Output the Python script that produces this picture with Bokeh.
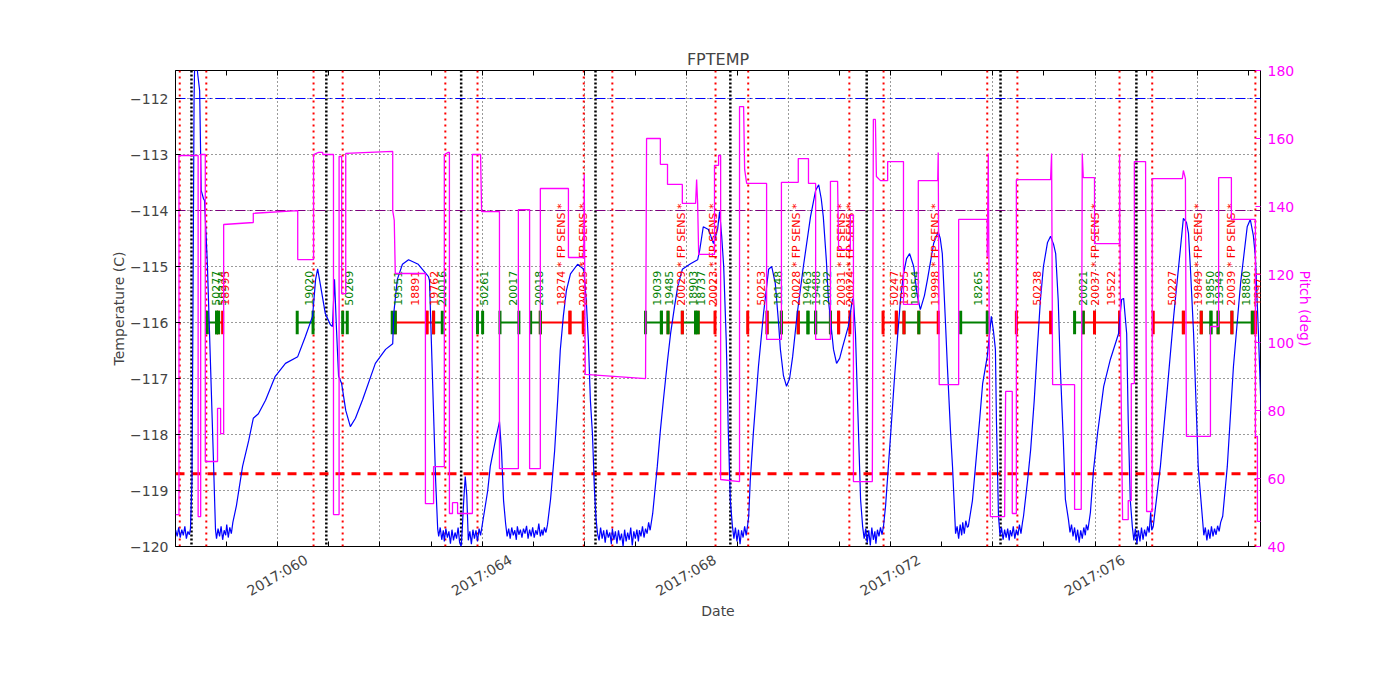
import math
from bokeh.plotting import figure
from bokeh.models import Range1d, LinearAxis, FixedTicker, Span, ColumnDataSource
from bokeh.embed import file_html
from bokeh.resources import INLINE
from bokeh.core.properties import value

# ---------------- data (day of year 2017) ----------------
TEMP = [
    (58.00, -119.71), (58.03, -119.82), (58.06, -119.66), (58.09, -119.84), (58.12, -119.70),
    (58.15, -119.80), (58.18, -119.64), (58.21, -119.86), (58.24, -119.73), (58.27, -119.79),
    (58.29, -119.68), (58.32, -118.82), (58.34, -115.61), (58.36, -112.04), (58.38, -110.96),
    (58.41, -111.32), (58.43, -111.55), (58.47, -111.86), (58.50, -113.64), (58.545, -113.79),
    (58.565, -113.82), (58.62, -114.93), (58.68, -116.68), (58.74, -118.46), (58.78, -119.70),
    (58.80, -119.86), (58.83, -119.68), (58.86, -119.82), (58.89, -119.64), (58.92, -119.88),
    (58.95, -119.71), (58.98, -119.80), (59.00, -119.61), (59.03, -119.84), (59.06, -119.66),
    (59.09, -119.77), (59.12, -119.57), (59.19, -119.27), (59.31, -118.57), (59.43, -118.11),
    (59.52, -117.71), (59.62, -117.63), (59.76, -117.39), (59.95, -116.96), (60.15, -116.73),
    (60.39, -116.61), (60.54, -116.25), (60.68, -115.89), (60.74, -115.23), (60.78, -115.04),
    (60.84, -115.36), (60.93, -115.84), (61.03, -116.04), (61.07, -116.07), (61.11, -115.23),
    (61.15, -116.14), (61.19, -116.96), (61.25, -117.09), (61.33, -117.57), (61.42, -117.86),
    (61.52, -117.71), (61.66, -117.38), (61.91, -116.73), (62.11, -116.48), (62.25, -116.38),
    (62.27, -115.84), (62.34, -115.23), (62.44, -114.96), (62.56, -114.88), (62.75, -114.96),
    (62.95, -115.18), (62.97, -115.25), (63.03, -117.04), (63.09, -118.82), (63.13, -119.68),
    (63.15, -119.82), (63.18, -119.66), (63.21, -119.88), (63.24, -119.71), (63.26, -119.91),
    (63.29, -119.68), (63.32, -119.84), (63.35, -119.73), (63.38, -119.95), (63.41, -119.70),
    (63.44, -119.89), (63.47, -119.75), (63.50, -119.86), (63.53, -119.66), (63.56, -119.93),
    (63.59, -120.00), (63.61, -119.71), (63.64, -119.18), (63.67, -118.75), (63.70, -119.09),
    (63.73, -119.89), (63.76, -119.73), (63.79, -119.96), (63.82, -119.70), (63.85, -119.86),
    (63.88, -119.71), (63.91, -119.91), (63.94, -119.68), (63.97, -119.80), (64.03, -119.46),
    (64.11, -119.00), (64.16, -118.57), (64.26, -118.11), (64.34, -117.77), (64.38, -118.29),
    (64.42, -119.18), (64.46, -119.59), (64.49, -119.82), (64.52, -119.68), (64.55, -119.86),
    (64.58, -119.66), (64.61, -119.80), (64.64, -119.71), (64.67, -119.88), (64.69, -119.64),
    (64.72, -119.79), (64.75, -119.70), (64.78, -119.84), (64.81, -119.68), (64.84, -119.77),
    (64.87, -119.63), (64.90, -119.86), (64.93, -119.70), (64.96, -119.82), (64.99, -119.66),
    (65.02, -119.84), (65.05, -119.71), (65.08, -119.79), (65.11, -119.59), (65.14, -119.82),
    (65.17, -119.70), (65.19, -119.80), (65.22, -119.66), (65.25, -119.75), (65.28, -119.61),
    (65.34, -119.16), (65.42, -118.29), (65.48, -117.38), (65.53, -116.50), (65.59, -115.89),
    (65.65, -115.43), (65.73, -115.13), (65.87, -114.96), (65.99, -115.05), (66.04, -115.61),
    (66.08, -116.32), (66.12, -117.39), (66.16, -117.98), (66.20, -119.00), (66.23, -119.50),
    (66.26, -119.77), (66.29, -119.89), (66.32, -119.66), (66.35, -119.86), (66.38, -119.71),
    (66.41, -119.93), (66.44, -119.70), (66.47, -119.84), (66.50, -119.75), (66.53, -119.96),
    (66.55, -119.68), (66.58, -119.88), (66.61, -119.73), (66.64, -119.95), (66.67, -119.71),
    (66.70, -119.89), (66.73, -119.77), (66.76, -120.00), (66.79, -119.70), (66.82, -119.91),
    (66.85, -119.75), (66.88, -119.88), (66.91, -119.66), (66.94, -119.98), (66.97, -119.73),
    (67.00, -119.86), (67.03, -119.70), (67.06, -119.91), (67.08, -119.71), (67.11, -119.82),
    (67.14, -119.64), (67.17, -119.84), (67.20, -119.68), (67.23, -119.77), (67.26, -119.57),
    (67.29, -119.71), (67.34, -119.41), (67.43, -118.57), (67.49, -117.93), (67.55, -117.38),
    (67.63, -116.68), (67.69, -116.20), (67.77, -115.70), (67.83, -115.36), (67.92, -115.05),
    (68.08, -114.95), (68.22, -114.88), (68.26, -114.71), (68.33, -114.29), (68.43, -114.34),
    (68.53, -114.59), (68.61, -114.34), (68.65, -114.02), (68.69, -114.45), (68.73, -115.00),
    (68.78, -116.32), (68.82, -117.93), (68.86, -119.18), (68.90, -119.63), (68.93, -119.86),
    (68.96, -119.66), (68.99, -119.91), (69.02, -119.70), (69.05, -119.96), (69.08, -119.71),
    (69.11, -119.84), (69.14, -119.64), (69.17, -119.80), (69.20, -119.61), (69.22, -119.46),
    (69.25, -118.82), (69.31, -117.98), (69.41, -116.79), (69.51, -115.84), (69.61, -115.05),
    (69.67, -115.00), (69.74, -115.30), (69.80, -115.96), (69.84, -116.48), (69.90, -116.95),
    (69.96, -117.14), (70.02, -117.00), (70.08, -116.61), (70.17, -115.84), (70.29, -115.00),
    (70.43, -114.11), (70.53, -113.64), (70.59, -113.54), (70.64, -113.79), (70.68, -114.11),
    (70.74, -114.89), (70.78, -115.59), (70.88, -116.48), (70.94, -116.73), (71.00, -116.64),
    (71.06, -116.43), (71.17, -116.07), (71.25, -115.59), (71.27, -115.57), (71.31, -116.20),
    (71.35, -117.39), (71.41, -119.16), (71.45, -119.64), (71.48, -119.86), (71.51, -119.68),
    (71.54, -119.93), (71.57, -119.71), (71.60, -119.98), (71.63, -119.66), (71.66, -119.88),
    (71.69, -119.73), (71.71, -119.95), (71.74, -119.70), (71.77, -119.82), (71.80, -119.66),
    (71.83, -119.79), (71.86, -119.63), (71.90, -119.27), (72.00, -117.98), (72.07, -117.04),
    (72.13, -116.30), (72.19, -115.61), (72.25, -115.13), (72.31, -114.86), (72.37, -114.77),
    (72.45, -115.00), (72.52, -115.52), (72.58, -115.77), (72.66, -115.52), (72.72, -115.23),
    (72.84, -114.59), (72.93, -114.38), (72.97, -114.50), (73.01, -114.77), (73.07, -115.96),
    (73.11, -116.79), (73.17, -117.93), (73.21, -118.57), (73.27, -119.77), (73.30, -119.64),
    (73.33, -119.86), (73.36, -119.61), (73.39, -119.80), (73.41, -119.57), (73.44, -119.77),
    (73.47, -119.54), (73.50, -119.66), (73.52, -119.64), (73.60, -119.18), (73.66, -118.57),
    (73.74, -117.75), (73.80, -117.09), (73.89, -116.61), (73.97, -115.89), (74.01, -116.14),
    (74.05, -116.48), (74.07, -117.75), (74.11, -119.46), (74.14, -119.80), (74.17, -119.66),
    (74.20, -119.88), (74.23, -119.70), (74.26, -119.84), (74.29, -119.68), (74.32, -119.89),
    (74.34, -119.71), (74.37, -119.82), (74.40, -119.64), (74.43, -119.86), (74.46, -119.70),
    (74.49, -119.80), (74.52, -119.61), (74.55, -119.77), (74.58, -119.57), (74.60, -119.46),
    (74.68, -118.82), (74.74, -118.27), (74.81, -117.39), (74.87, -116.48), (74.93, -115.61),
    (74.99, -115.00), (75.07, -114.57), (75.13, -114.46), (75.19, -114.61), (75.23, -114.77),
    (75.28, -115.61), (75.32, -116.79), (75.38, -118.11), (75.42, -119.16), (75.48, -119.52),
    (75.51, -119.75), (75.54, -119.61), (75.57, -119.82), (75.60, -119.66), (75.63, -119.89),
    (75.66, -119.70), (75.69, -119.93), (75.72, -119.71), (75.75, -119.86), (75.78, -119.66),
    (75.81, -119.80), (75.83, -119.61), (75.86, -119.71), (75.91, -119.39), (75.97, -118.64),
    (76.05, -117.98), (76.17, -117.14), (76.30, -116.66), (76.46, -116.20), (76.52, -115.59),
    (76.56, -115.57), (76.62, -116.20), (76.65, -117.75), (76.69, -119.16), (76.73, -119.64),
    (76.76, -119.89), (76.79, -119.68), (76.82, -119.95), (76.85, -119.71), (76.88, -119.91),
    (76.91, -119.66), (76.94, -119.88), (76.97, -119.70), (77.00, -119.82), (77.03, -119.64),
    (77.06, -119.75), (77.09, -119.39), (77.11, -119.71), (77.14, -119.64), (77.20, -119.18),
    (77.28, -118.57), (77.42, -117.14), (77.54, -115.89), (77.67, -114.70), (77.73, -114.14),
    (77.79, -114.21), (77.83, -114.41), (77.87, -115.07), (77.93, -116.20), (77.99, -117.75),
    (78.02, -118.57), (78.10, -119.46), (78.13, -119.80), (78.16, -119.66), (78.19, -119.89),
    (78.22, -119.70), (78.25, -119.86), (78.28, -119.64), (78.31, -119.82), (78.34, -119.68),
    (78.37, -119.79), (78.40, -119.63), (78.43, -119.73), (78.46, -119.57), (78.50, -119.46),
    (78.59, -118.57), (78.71, -116.79), (78.85, -115.30), (78.98, -114.29), (79.04, -114.16),
    (79.10, -114.45), (79.14, -114.82), (79.20, -116.20), (79.24, -117.27), (79.28, -118.29),
]

PITCH = [
    (58.00, 49.4), (58.065, 49.4), (58.065, 155.0), (58.44, 155.0), (58.44, 48.8), (58.49, 48.8),
    (58.49, 155.3), (58.58, 155.3), (58.58, 65.0), (58.82, 65.0), (58.82, 80.6), (58.88, 80.6),
    (58.88, 73.2), (58.94, 73.2), (58.94, 134.7), (59.52, 135.3), (59.52, 138.0), (60.39, 138.8),
    (60.39, 124.4), (60.70, 124.4), (60.70, 155.3), (60.80, 155.9), (60.88, 155.9), (60.88, 155.3),
    (61.09, 155.3), (61.09, 49.4), (61.20, 49.4), (61.20, 154.7), (61.25, 154.7), (61.25, 114.4),
    (61.33, 114.4), (61.33, 155.6), (62.25, 156.2), (62.25, 138.8), (62.28, 135.9), (62.30, 120.3),
    (62.89, 120.3), (62.89, 52.6), (63.05, 52.6), (63.05, 63.5), (63.26, 63.5), (63.26, 155.3),
    (63.34, 155.9), (63.36, 155.9), (63.36, 49.7), (63.42, 49.7), (63.42, 52.9), (63.52, 52.9),
    (63.52, 49.7), (63.81, 49.7), (63.81, 155.3), (63.97, 155.3), (63.99, 138.5), (64.34, 138.5),
    (64.34, 62.9), (64.71, 62.9), (64.71, 139.1), (64.93, 139.1), (64.93, 62.9), (65.14, 62.9),
    (65.14, 145.3), (65.69, 145.3), (65.69, 125.0), (65.99, 125.0), (66.00, 149.4), (66.02, 90.6),
    (67.20, 89.4), (67.22, 160.0), (67.49, 160.0), (67.49, 152.4), (67.63, 152.4), (67.63, 146.5),
    (67.92, 146.5), (67.92, 140.9), (68.18, 140.9), (68.20, 147.9), (68.22, 140.9), (68.24, 125.9),
    (68.55, 125.9), (68.55, 152.1), (68.63, 152.1), (68.63, 155.0), (68.67, 155.0), (68.67, 59.7),
    (69.04, 59.1), (69.04, 169.4), (69.12, 169.4), (69.14, 150.9), (69.18, 146.8), (69.57, 146.8),
    (69.57, 100.9), (69.86, 100.9), (69.86, 147.1), (70.19, 147.1), (70.19, 154.1), (70.39, 154.1),
    (70.39, 146.8), (70.53, 146.8), (70.53, 100.9), (70.82, 100.9), (70.82, 147.4), (70.96, 147.4),
    (70.98, 127.4), (71.21, 127.4), (71.21, 137.4), (71.27, 137.4), (71.27, 59.1), (71.64, 59.1),
    (71.66, 165.6), (71.70, 165.6), (71.72, 148.8), (71.80, 147.6), (71.94, 147.6), (71.94, 153.2),
    (72.25, 153.2), (72.25, 111.2), (72.54, 111.2), (72.54, 147.6), (72.92, 147.6), (72.93, 155.9),
    (72.95, 87.6), (73.33, 87.6), (73.33, 136.2), (73.89, 136.2), (73.89, 125.3), (73.91, 155.6),
    (73.95, 48.8), (74.23, 48.8), (74.25, 85.6), (74.38, 85.6), (74.38, 49.7), (74.46, 49.7),
    (74.46, 147.9), (75.13, 147.9), (75.15, 155.6), (75.17, 87.6), (75.60, 87.6), (75.60, 50.9),
    (75.73, 50.9), (75.75, 155.6), (75.77, 148.5), (75.99, 148.5), (75.99, 129.1), (76.48, 129.1),
    (76.48, 155.3), (76.50, 100.9), (76.54, 47.9), (76.65, 47.9), (76.65, 53.5), (76.71, 53.5),
    (76.71, 87.9), (76.77, 87.9), (76.77, 153.2), (76.99, 153.2), (77.01, 50.3), (77.12, 50.3),
    (77.12, 148.2), (77.71, 148.2), (77.73, 150.6), (77.77, 148.2), (77.79, 72.4), (78.26, 72.4),
    (78.26, 104.7), (78.42, 104.7), (78.42, 148.5), (78.67, 148.5), (78.67, 136.2), (79.14, 136.2),
    (79.14, 72.4), (79.18, 72.4), (79.18, 47.4), (79.28, 47.4),
]

TEMP_DAY = [d for d, _ in TEMP]
TEMP_VAL = [v for _, v in TEMP]
PITCH_DAY = [d for d, _ in PITCH]
PITCH_VAL = [v for _, v in PITCH]

# radiation-zone / perigee markers
RED_MARK_DAYS = [58.08, 58.60, 60.70, 61.27, 63.28, 63.91, 65.99, 66.55, 68.57, 69.21,
                 71.19, 71.86, 73.89, 74.48, 76.48, 77.12, 79.14]
BLACK_MARK_DAYS = [58.31, 60.95, 63.59, 66.22, 68.86, 71.53, 74.15, 76.81]

# observations
OBS_ID = ["50277", "50274", "18995", "19020", "50269", "19551", "18891", "19762", "20016",
          "50261", "20017", "20018", "18274 * FP SENS *", "20025 * FP SENS *", "19039", "19485",
          "20029 * FP SENS *", "18903", "18737", "20023 * FP SENS *", "50253", "18148",
          "20028 * FP SENS *", "19463", "19488", "20032", "20031 * FP SENS *", "20024 * FP SENS *",
          "50247", "19335", "19954", "19998 * FP SENS *", "18265", "50238", "20021",
          "20037 * FP SENS *", "19522", "50227", "19849 * FP SENS *", "19850", "19349",
          "20039 * FP SENS *", "18880", "18971"]
OBS_START = [58.62, 58.80, 58.84, 60.38, 61.27, 62.24, 62.30, 62.92, 63.05,
             63.91, 64.35, 64.95, 65.14, 65.72, 67.20, 67.51,
             67.64, 67.92, 68.18, 68.23, 69.20, 69.58,
             69.86, 70.19, 70.38, 70.53, 70.82, 70.98,
             71.85, 72.11, 72.26, 72.55, 73.37, 74.46, 75.60,
             75.77, 75.99, 77.14, 77.73, 78.08, 78.27,
             78.41, 78.68, 79.08]
OBS_STOP = [58.80, 58.84, 58.92, 60.69, 61.36, 62.30, 62.92, 63.05, 63.22,
            64.01, 64.72, 65.14, 65.72, 65.98, 67.51, 67.64,
            67.92, 68.18, 68.23, 68.56, 69.58, 69.86,
            70.19, 70.38, 70.53, 70.82, 70.98, 71.20,
            72.11, 72.26, 72.55, 72.93, 73.89, 75.13, 75.77,
            75.99, 76.48, 77.73, 78.08, 78.27, 78.41,
            78.68, 79.08, 79.14]
OBS_KIND = ["g", "g", "r", "g", "g", "g", "r", "r", "g",
            "g", "g", "g", "r", "r", "g", "g",
            "r", "g", "g", "r", "r", "g",
            "r", "g", "g", "g", "r", "r",
            "r", "r", "g", "r", "g", "r", "g",
            "r", "r", "r", "r", "g", "g",
            "r", "g", "r"]

TEMP_TICKS = [-120, -119, -118, -117, -116, -115, -114, -113, -112]
PITCH_TICKS = [40, 60, 80, 100, 120, 140, 160, 180]
DAY_TICKS = list(range(58, 80))
GRID_DAYS = list(range(58, 80, 2))
LABEL_DAYS = [60, 64, 68, 72, 76]
DAY_LABELS = ["2017:060", "2017:064", "2017:068", "2017:072", "2017:076"]

LIMIT_BLUE = -112.0
LIMIT_PURPLE = -114.0
LIMIT_RED = -118.7

# ---------------- styling / layout ----------------
FONT = "DejaVu Sans"
BAR_Y = -116.0
TICK_HALF = 0.21
LABEL_Y = -115.70
KIND_COLOR = {"g": "#008000", "r": "#ff0000"}
LABEL_SHIFT = 0.56   # centres the slanted date labels on their ticks

p = figure(width=1392, height=692,
           x_range=Range1d(57.997, 79.24), y_range=Range1d(-120.0, -111.5),
           output_backend="svg", toolbar_location=None, title="FPTEMP",
           min_border_left=175, min_border_right=132, min_border_top=70, min_border_bottom=146)
p.extra_y_ranges = {"pitch": Range1d(40, 180)}
p.background_fill_color = "white"
p.border_fill_color = "white"
p.outline_line_color = "black"
p.outline_line_width = 1
p.outline_line_alpha = 1.0

p.title.align = "center"
p.title.text_font = FONT
p.title.text_font_style = "normal"
p.title.text_font_size = "16px"
p.title.standoff = 4

# bottom axis: tick marks every day (no labels)
xa = p.xaxis[0]
xa.ticker = FixedTicker(ticks=[], minor_ticks=DAY_TICKS)

# bottom label axis: slanted date labels centred on the ticks
la = LinearAxis(ticker=FixedTicker(ticks=[d + LABEL_SHIFT for d in LABEL_DAYS], minor_ticks=[]))
la.major_label_overrides = {d + LABEL_SHIFT: lab for d, lab in zip(LABEL_DAYS, DAY_LABELS)}
la.major_label_orientation = math.pi / 6
la.axis_label = "Date"
p.add_layout(la, "below")

# left axis
ya = p.yaxis[0]
ya.ticker = FixedTicker(ticks=TEMP_TICKS, minor_ticks=[])
ya.major_label_overrides = {t: ("\u2212%d" % abs(t)) for t in TEMP_TICKS}
ya.axis_label = "Temperature (C)"

# right axis
ra = LinearAxis(y_range_name="pitch", ticker=FixedTicker(ticks=PITCH_TICKS, minor_ticks=[]),
                axis_label="Pitch (deg)")
p.add_layout(ra, "right")

# top ticks (no labels)
ta = LinearAxis(ticker=FixedTicker(ticks=[], minor_ticks=DAY_TICKS))
p.add_layout(ta, "above")

for ax in [xa, la, ya, ra, ta]:
    ax.axis_line_color = None
    ax.major_tick_in = 5
    ax.major_tick_out = 0
    ax.minor_tick_in = 5
    ax.minor_tick_out = 0
    ax.minor_tick_line_color = "black"
    ax.major_tick_line_color = "black"
    ax.major_label_text_font = FONT
    ax.major_label_text_font_size = "14px"
    ax.axis_label_text_font = FONT
    ax.axis_label_text_font_style = "normal"
    ax.axis_label_text_font_size = "14px"
    ax.major_label_standoff = 7
    ax.axis_label_standoff = 0
xa.major_label_standoff = 0
ta.major_label_standoff = 0
la.major_tick_line_color = None
la.minor_tick_line_color = None
la.major_label_standoff = 12
la.axis_label_standoff = -6

ra.major_tick_line_color = "#ff00ff"
ra.major_label_text_color = "#ff00ff"
ra.axis_label_text_color = "#ff00ff"

# grid
p.xgrid.ticker = FixedTicker(ticks=GRID_DAYS)
p.ygrid.ticker = FixedTicker(ticks=TEMP_TICKS)
for g in [p.xgrid[0], p.ygrid[0]]:
    g.grid_line_color = "black"
    g.grid_line_dash = "1 3"
    g.grid_line_width = 0.8
    g.grid_line_alpha = 1.0

# vertical markers
for d in RED_MARK_DAYS:
    p.add_layout(Span(location=d, dimension="height", line_color="#ff0000",
                      line_dash="2 4", line_width=2, level="underlay"))
for d in BLACK_MARK_DAYS:
    p.add_layout(Span(location=d, dimension="height", line_color="black",
                      line_dash="2 2", line_width=2.5, level="underlay"))

# horizontal limits
p.add_layout(Span(location=LIMIT_BLUE, dimension="width", line_color="#0000ff",
                  line_dash="10 4 2 4", line_width=1, level="underlay"))
p.add_layout(Span(location=LIMIT_PURPLE, dimension="width", line_color="#800080",
                  line_dash="10 4 2 4", line_width=1, level="underlay"))
p.add_layout(Span(location=LIMIT_RED, dimension="width", line_color="#ff0000",
                  line_dash="9 7", line_width=3, level="underlay"))

# observation bars
colors = [KIND_COLOR[k] for k in OBS_KIND]
p.segment(x0=OBS_START, y0=BAR_Y, x1=OBS_STOP, y1=BAR_Y, line_color=colors, line_width=2)
edges = OBS_START + OBS_STOP
edge_colors = colors + colors
p.segment(x0=edges, y0=BAR_Y - TICK_HALF, x1=edges, y1=BAR_Y + TICK_HALF,
          line_color=edge_colors, line_width=3)

# temperature
p.line(TEMP_DAY, TEMP_VAL, line_color="#0000ff", line_width=1.2)

# obsid labels
mids = [(a + b) / 2.0 for a, b in zip(OBS_START, OBS_STOP)]
lab_src = ColumnDataSource(dict(x=mids, y=[LABEL_Y] * len(mids), text=OBS_ID, color=colors))
p.text(x="x", y="y", text="text", text_color="color", source=lab_src, angle=math.pi / 2,
       text_align="left", text_baseline="top", text_font=value(FONT), text_font_size="11px")

# pitch
p.line(PITCH_DAY, PITCH_VAL, line_color="#ff00ff", line_width=1.3, y_range_name="pitch")

open("out.html", "w").write(file_html(p, INLINE))
